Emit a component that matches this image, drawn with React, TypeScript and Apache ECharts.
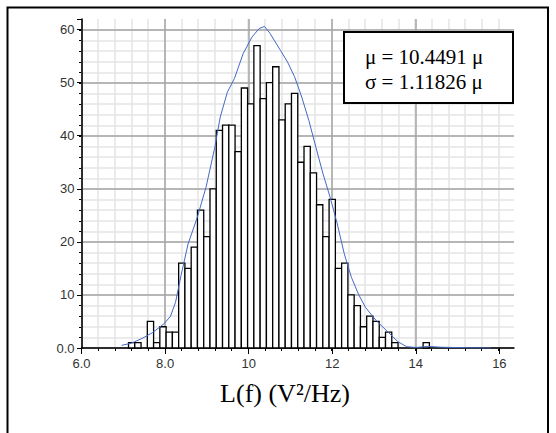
import React, { useEffect, useRef } from 'react';
import * as echarts from 'echarts';

// Histogram bins (start, width) and counts
const BIN_START = 7.125;
const BIN_WIDTH = 0.15;
const binCounts = [
  1, 1, 0, 5, 1, 4, 3, 3, 16, 15, 19, 26, 21, 30, 41, 42, 42, 37, 49, 46, 57, 47, 50, 53,
  43, 46, 48, 35, 38, 33, 27, 21, 28, 15, 16, 10, 8, 4, 6, 5, 2, 3, 1, 0, 0, 0, 0, 1,
];

// Fitted density curve (blue)
const curveX = [
  6.96, 7.19, 7.45, 7.7, 7.98, 8.13, 8.25, 8.38, 8.55, 8.77, 8.98, 9.19, 9.32, 9.49, 9.66, 9.87,
  10.08, 10.25, 10.38, 10.51, 10.76, 10.93, 11.1, 11.27, 11.44, 11.61, 11.78, 11.95, 12.12, 12.29,
  12.46, 12.63, 12.8, 13.06, 13.31, 13.57, 13.78, 14.0, 14.3, 14.6, 15.2, 15.8,
];
const curveY = [
  0.5, 0.9, 1.8, 2.9, 4.6, 6.0, 8.6, 13.6, 19.6, 24.6, 30.3, 37.8, 43.5, 48.2, 50.8, 55.5,
  58.6, 60.2, 60.6, 59.3, 56.1, 53.9, 51.1, 47.3, 42.9, 37.8, 32.8, 28.4, 23.4, 17.7,
  13.3, 10.1, 7.6, 5.1, 3.2, 1.2, 0.25, 0.1, 0.3, 0.15, 0.05, 0,
];

const xTickValues = [6, 8, 10, 12, 14, 16];
const xTickLabels = ['6.0', '8.0', '10', '12', '14', '16'];
const yTickValues = [0, 10, 20, 30, 40, 50, 60];
const yTickLabels = ['0.0', '10', '20', '30', '40', '50', '60'];
const statsLines = ['μ = 10.4491 μ', 'σ = 1.11826 μ'];
const axisTitle = 'L(f) (V²/Hz)';

export default function App() {
  const ref = useRef<HTMLDivElement>(null);
  useEffect(() => {
    const chart = echarts.init(ref.current!, null, { renderer: 'svg' });
    const barData = binCounts.map((c, i) => [
      BIN_START + i * BIN_WIDTH,
      BIN_START + (i + 1) * BIN_WIDTH,
      c,
    ]);
    const curveData = curveX.map((x, i) => [x, curveY[i]]);
    const labelFont = { fontFamily: 'Liberation Sans', fontSize: 13, color: '#333' };

    const xFmt = (v: number) => {
      const i = xTickValues.findIndex((t) => Math.abs(t - v) < 1e-6);
      return i >= 0 ? xTickLabels[i] : '';
    };
    const yFmt = (v: number) => {
      const i = yTickValues.findIndex((t) => Math.abs(t - v) < 1e-6);
      return i >= 0 ? yTickLabels[i] : '';
    };

    chart.setOption({
      animation: false,
      grid: [
        { left: 81.5, right: 556 - 498.3, top: 19, bottom: 85, outerBoundsMode: 'none' },
        { left: 81.5, right: 42, top: 30, bottom: 85, outerBoundsMode: 'none' },
        { left: 81.5, right: 42, top: 19, bottom: 85, outerBoundsMode: 'none' },
      ],
      xAxis: [
        {
          gridIndex: 0, type: 'value', min: 6, max: 16, interval: 0.4,
          axisLine: { show: false },
          axisLabel: { show: false },
          axisTick: { show: true, length: 3, lineStyle: { color: '#000', width: 1 } },
          splitLine: { show: true, lineStyle: { color: '#e4e4e4', width: 1.5 } },
        },
        { gridIndex: 1, type: 'value', min: 6, max: 16, show: false },
        {
          gridIndex: 2, type: 'value', min: 6, max: 16.35, interval: 2, z: 1,
          axisLine: { show: true, onZero: false, lineStyle: { color: '#000', width: 1.5 } },
          axisTick: { show: true, length: 6, customValues: xTickValues, lineStyle: { color: '#000', width: 1 } },
          axisLabel: { ...labelFont, margin: 9, formatter: xFmt },
          splitLine: { show: true, showMaxLine: false, lineStyle: { color: '#a5a5a5', width: 1.5 } },
        },
      ],
      yAxis: [
        { gridIndex: 0, type: 'value', min: 0, max: 62, show: false },
        {
          gridIndex: 1, type: 'value', min: 0, max: 60, interval: 2,
          axisLine: { show: false },
          axisLabel: { show: false },
          axisTick: { show: true, length: 2.5, lineStyle: { color: '#000', width: 1 } },
          splitLine: { show: true, lineStyle: { color: '#e4e4e4', width: 1.5 } },
        },
        {
          gridIndex: 2, type: 'value', min: 0, max: 62, interval: 10, z: 1,
          axisLine: { show: true, onZero: false, lineStyle: { color: '#000', width: 1.5 } },
          axisTick: { show: true, length: 4.5, lineStyle: { color: '#000', width: 1 } },
          axisLabel: { ...labelFont, margin: 7, formatter: yFmt },
          splitLine: { show: true, showMaxLine: false, lineStyle: { color: '#a5a5a5', width: 1.5 } },
        },
      ],
      series: [
        {
          type: 'custom',
          xAxisIndex: 2,
          yAxisIndex: 2,
          z: 2,
          encode: { x: [0, 1], y: 2 },
          data: barData,
          renderItem: (params: any, api: any) => {
            const c = api.value(2);
            if (!c) return null;
            const p0 = api.coord([api.value(0), 0]);
            const p1 = api.coord([api.value(1), c]);
            return {
              type: 'rect',
              shape: { x: p0[0], y: p1[1], width: p1[0] - p0[0], height: p0[1] - p1[1] },
              style: { fill: '#fff', stroke: '#000', lineWidth: 1.3 },
            };
          },
        },
        {
          type: 'line',
          xAxisIndex: 2,
          yAxisIndex: 2,
          z: 3,
          data: curveData,
          showSymbol: false,
          symbol: 'none',
          smooth: false,
          lineStyle: { color: '#4468c4', width: 1 },
        },
      ],
      graphic: [
        {
          type: 'rect',
          z: 10,
          shape: { x: 7.5, y: 7.5, width: 540.5, height: 460 },
          style: { fill: 'none', stroke: '#000', lineWidth: 2 },
        },
        {
          type: 'rect',
          z: 10,
          shape: { x: 344, y: 32, width: 169, height: 71 },
          style: { fill: '#fff', stroke: '#000', lineWidth: 2 },
        },
        {
          type: 'text',
          z: 11,
          x: 365,
          y: 56.5,
          style: {
            text: statsLines[0],
            font: '21px "Liberation Serif"',
            fill: '#000',
            textAlign: 'left',
            textVerticalAlign: 'middle',
          },
        },
        {
          type: 'text',
          z: 11,
          x: 365,
          y: 81.5,
          style: {
            text: statsLines[1],
            font: '21px "Liberation Serif"',
            fill: '#000',
            textAlign: 'left',
            textVerticalAlign: 'middle',
          },
        },
        {
          type: 'text',
          z: 11,
          x: 285,
          y: 393,
          style: {
            text: axisTitle,
            font: '26px "Liberation Serif"',
            fill: '#000',
            textAlign: 'center',
            textVerticalAlign: 'middle',
          },
        },
      ],
    });
    return () => chart.dispose();
  }, []);

  return (
    <div
      ref={ref}
      style={{ position: 'absolute', left: 0, top: 0, width: 556, height: 433, background: '#fff' }}
    />
  );
}
